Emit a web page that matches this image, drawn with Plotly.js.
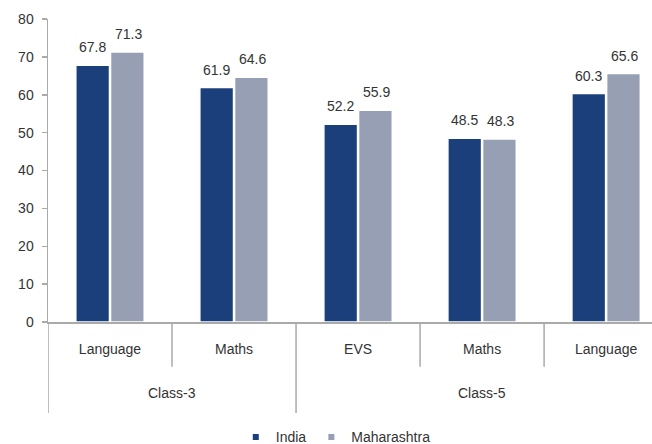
<!DOCTYPE html>
<html><head><meta charset="utf-8">
<script src="https://cdn.plot.ly/plotly-3.0.1.min.js"></script>
<style>html,body{margin:0;padding:0;background:#fff}</style>
</head><body>
<div id="chart" style="width:652px;height:444px"></div>
<script>
const groups = ['Class-3','Class-3','Class-5','Class-5','Class-5'];
const subjects = ['Language','Maths','EVS','Maths','Language'];
const indiaVals = [67.8, 61.9, 52.2, 48.5, 60.3];
const mahaVals = [71.3, 64.6, 55.9, 48.3, 65.6];
const groupNames = ['Class-3','Class-5'];

const keys = groups.map((g,i)=>g+'|'+subjects[i]);
const font = {family:'Liberation Sans, Arial, sans-serif', size:14, color:'#333'};
const lineCol = '#aaaaaa';

const traces = [
  {type:'bar', name:'India', x:keys, y:indiaVals, showlegend:false,
   marker:{color:'#1b3f7a', line:{color:'#ffffff', width:1.5}}},
  {type:'bar', name:'Maharashtra', x:keys, y:mahaVals, showlegend:false,
   marker:{color:'#979fb5', line:{color:'#ffffff', width:1.5}}},
  {type:'scatter', mode:'markers', name:'India', x:[null], y:[null],
   marker:{symbol:'square', size:6, color:'#1b3f7a'}},
  {type:'scatter', mode:'markers', name:'Maharashtra', x:[null], y:[null],
   marker:{symbol:'square', size:6, color:'#979fb5'}}
];

const annotations = [];
keys.forEach((k,i)=>{
  annotations.push({x:k, y:indiaVals[i], xref:'x', yref:'y', text:indiaVals[i].toFixed(1),
    showarrow:false, yanchor:'bottom', xshift:-18, yshift:8, font:font});
  annotations.push({x:k, y:mahaVals[i], xref:'x', yref:'y', text:mahaVals[i].toFixed(1),
    showarrow:false, yanchor:'bottom', xshift:18, yshift:8, font:font});
});
groupNames.forEach(g=>{
  const idx = groups.map((x,i)=>x===g?i:-1).filter(i=>i>=0);
  const mid = (idx[0]+idx[idx.length-1])/2;
  annotations.push({x:mid, y:-0.234, xref:'x', yref:'paper', text:g, showarrow:false,
    yanchor:'middle', font:font});
});

const shapes = [];
for (let i=0;i<=keys.length;i++){
  const isGroupEdge = (i===0) || (i<keys.length && groups[i]!==groups[i-1]) || i===keys.length;
  shapes.push({type:'line', xref:'x', yref:'paper', x0:i-0.5, x1:i-0.5, y0:0, y1:isGroupEdge?-0.30:-0.148,
    line:{color:lineCol, width:1.5}});
}

const layout = {
  width:652, height:444,
  margin:{l:48, r:0, t:19, b:122},
  paper_bgcolor:'#fff', plot_bgcolor:'#fff',
  font:font,
  barmode:'group', bargap:0.44, bargroupgap:0.03,
  showlegend:true,
  legend:{orientation:'h', x:0.515, xanchor:'center', xref:'container', yref:'container', y:0.015, yanchor:'middle',
          font:font, itemwidth:30, traceorder:'normal'},
  xaxis:{type:'category', range:[-0.5, 4.37], showline:true, linecolor:lineCol, linewidth:1.5,
         ticks:'', tickvals:keys, ticktext:subjects, ticklabelstandoff:14,
         showgrid:false, zeroline:false, tickfont:font},
  yaxis:{range:[0,80], dtick:10, showline:true, linecolor:lineCol, linewidth:1.5,
         ticks:'outside', ticklen:5, tickcolor:lineCol, tickwidth:1.5, ticklabelstandoff:5,
         showgrid:false, zeroline:false, tickfont:font},
  annotations:annotations,
  shapes:shapes
};
Plotly.newPlot('chart', traces, layout, {displayModeBar:false, staticPlot:true});
</script>
</body></html>
